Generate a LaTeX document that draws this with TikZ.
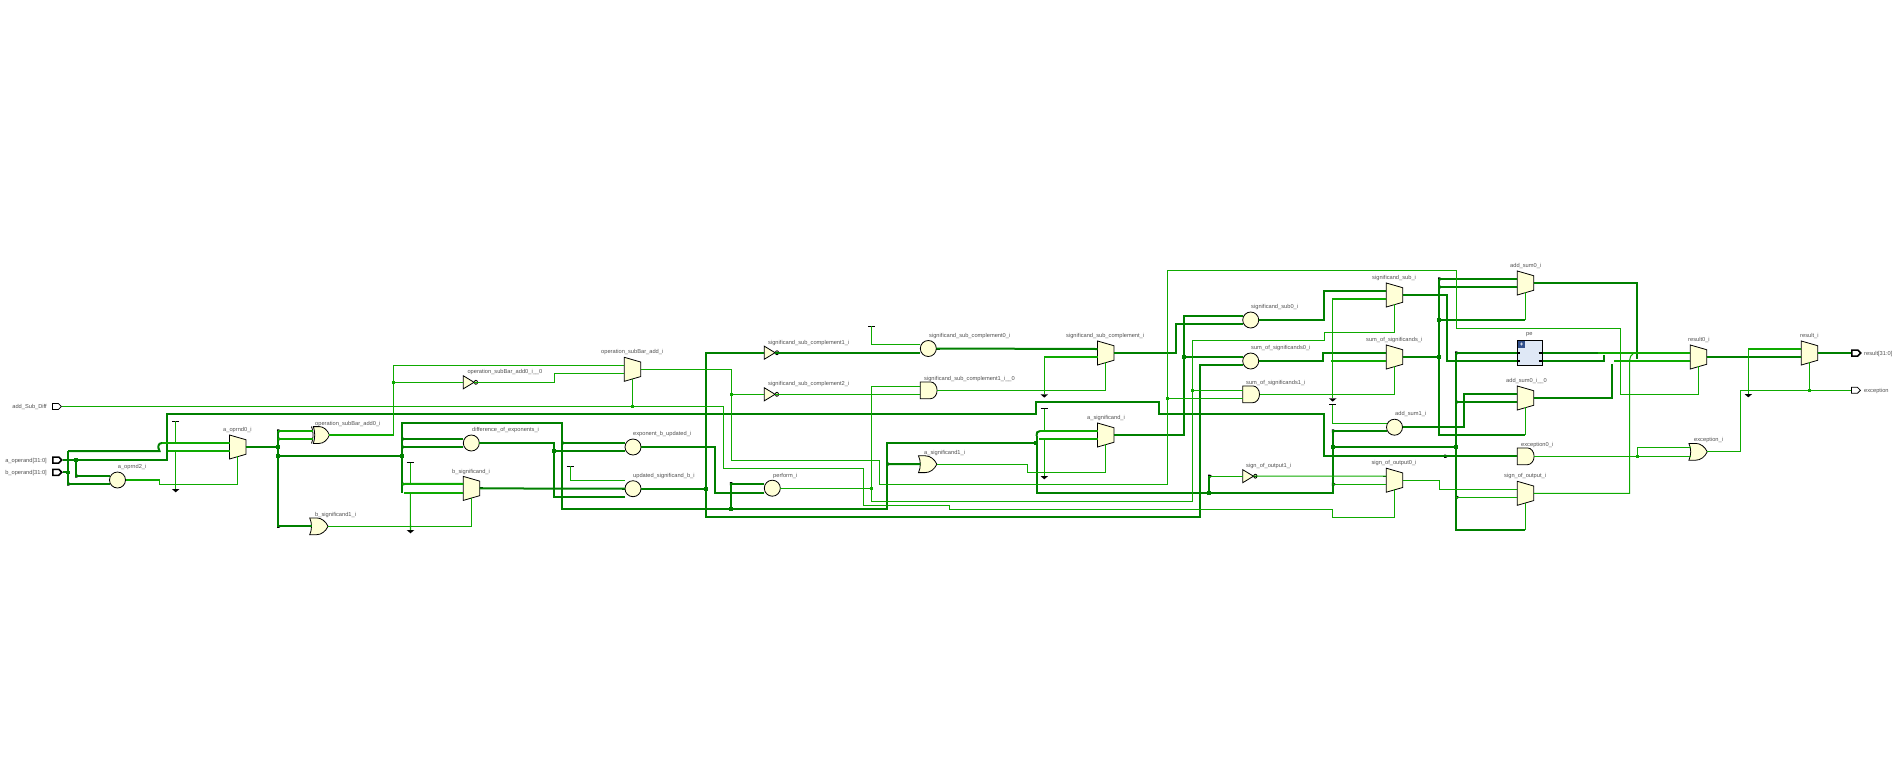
\documentclass[tikz,border=0pt]{standalone}
\usepackage{fontspec}
\setmainfont{Liberation Sans}
\usetikzlibrary{shapes.geometric, shapes.symbols, shapes.gates.logic.US}
\definecolor{Busc}{RGB}{0, 128, 0}
\definecolor{Sigc}{RGB}{14, 170, 0}
\definecolor{Cellc}{RGB}{255, 255, 215}
\definecolor{Hierc}{RGB}{223, 232, 246}
\definecolor{Btnc}{RGB}{50, 80, 140}
\definecolor{Txtc}{RGB}{80, 80, 80}
\tikzset{
  sigwire/.style={Sigc, line width=1.05pt, line join=miter},
  buswire/.style={Busc, line width=2pt, line join=miter},
  brightbus/.style={Sigc, line width=2pt},
  pinstub/.style={black, line width=1.1pt},
  busstub/.style={black, line width=2pt},
  celltext/.style={font=\fontsize{5.7}{6.8}\selectfont, text=Txtc, anchor=west, inner sep=0pt},
  cellbase/.style={draw=black, line width=0.8pt, fill=Cellc, inner sep=1pt, outer sep=0pt},
  muxcell/.style={cellbase, trapezium, shape border rotate=270, trapezium stretches=true,
    minimum width=24pt, minimum height=16.4pt, trapezium left angle=72, trapezium right angle=72},
  circcell/.style={cellbase, circle, minimum size=16pt},
  andcell/.style={cellbase, and gate US, logic gate inputs=nn, minimum width=16pt, minimum height=12.7pt, xscale=0.8, transform shape},
  orcell/.style={cellbase, or gate US, logic gate inputs=nn, minimum width=16pt, minimum height=12.7pt, xscale=0.8, transform shape},
  xorcell/.style={cellbase, xor gate US, logic gate inputs=nn, minimum width=14pt, minimum height=12.7pt, xscale=0.7, transform shape},
  notcell/.style={cellbase, not gate US, minimum width=15pt, minimum height=10.7pt, xscale=0.8, transform shape},
  busdot/.style={fill=Busc, inner sep=0pt, minimum size=3.6pt},
  sigdot/.style={fill=Sigc, inner sep=0pt, minimum size=2.8pt},
  portin/.style={draw=black, fill=white, signal, signal to=east, signal from=nowhere, inner sep=1pt,
    minimum width=9pt, minimum height=6pt, line width=0.8pt},
  portbus/.style={portin, line width=1.5pt},
}

\begin{document}
\begin{tikzpicture}[x=1pt, y=-1pt]
  \useasboundingbox (0,0) rectangle (1898,777);

  % Cells with two inputs
  \foreach \nm/\kind/\px/\py/\gp/\lx/\ly/\txt in {
    aopzero/muxcell/229.5/447/4/223/430/a\_oprnd0\_i,
    aoptwo/circcell/109.5/480/4/117.7/467/a\_oprnd2\_i,
    opxor/xorcell/313/435/4/315/424.3/operation\_subBar\_add0\_i,
    opadd/muxcell/624.3/369.3/4/601/352/operation\_subBar\_add\_i,
    diffexp/circcell/463.3/443/4/472/430/difference\_of\_exponents\_i,
    bsig/muxcell/463.3/488.4/4.6/452/472/b\_significand\_i,
    expb/circcell/625/447/4/633/434.3/exponent\_b\_updated\_i,
    perf/circcell/764.3/488.2/4.5/773/476/perform\_i,
    cmplzero/circcell/920.3/348.5/4.2/929/336/significand\_sub\_complement0\_i,
    cmplone/andcell/920.3/390.3/4/924/379/significand\_sub\_complement1\_i\_\_0,
    cmpl/muxcell/1097.5/353/4/1066/336/significand\_sub\_complement\_i,
    asig/muxcell/1097.5/435/4/1087/418.3/a\_significand\_i,
    subzero/circcell/1242.7/320/4/1251/307/significand\_sub0\_i,
    sumzero/circcell/1242.7/361/4.2/1251/348/sum\_of\_significands0\_i,
    sumone/andcell/1242.7/394.3/4/1246/383/sum\_of\_significands1\_i,
    submux/muxcell/1386.3/295/4/1372/278.3/significand\_sub\_i,
    summux/muxcell/1386.3/357/4/1366/340/sum\_of\_significands\_i,
    addone/circcell/1386.5/427.2/3.9/1395/414/add\_sum1\_i,
    sgnzero/muxcell/1386.3/480.2/4.1/1371.3/463/sign\_of\_output0\_i,
    addzero/muxcell/1517.3/283/4/1510/266/add\_sum0\_i,
    addz/muxcell/1517.3/398/4/1506/381/add\_sum0\_i\_\_0,
    sgn/muxcell/1517.3/493.3/4/1504/476/sign\_of\_output\_i,
    resz/muxcell/1690.3/357/4/1688/340/result0\_i,
    res/muxcell/1801.3/353/4/1800/336/result\_i,
    excor/orcell/1690.7/451.8/4.5/1694/440/exception\_i%
  }{
    \node[\kind, anchor=west] (\nm) at (\px,\py) {};
    \node[celltext] (\nm-t) at (\lx,\ly) {\txt};
    \coordinate (\nm-a) at (\px,\py-\gp);
    \coordinate (\nm-b) at (\px,\py+\gp);
    \coordinate (\nm-o) at (\nm.east);
    \coordinate (\nm-s) at (\px+8.2,\py+9.2);
    \draw[pinstub] (\nm-a) -- +(-3.5,0);
    \draw[pinstub] (\nm-b) -- +(-3.5,0);
    \draw[pinstub] (\nm-o) -- +(3.5,0);
  }

  % Cells with one input
  \foreach \nm/\kind/\px/\py/\lx/\ly/\txt in {
    invzero/notcell/463.3/382.3/467.3/372.3/operation\_subBar\_add0\_i\_\_0,
    invone/notcell/764.3/352.7/768/343/significand\_sub\_complement1\_i,
    invtwo/notcell/764.3/394.3/768/384/significand\_sub\_complement2\_i,
    invthree/notcell/1242.7/476.2/1246/466.3/sign\_of\_output1\_i,
    borcell/orcell/311.5/526.3/315/515/b\_significand1\_i,
    aorcell/orcell/920.3/464.2/924/453/a\_significand1\_i,
    excand/andcell/1517.3/456.3/1521/445/exception0\_i%
  }{
    \node[\kind, anchor=west] (\nm) at (\px,\py) {};
    \node[celltext] (\nm-t) at (\lx,\ly) {\txt};
    \coordinate (\nm-a) at (\px,\py);
    \coordinate (\nm-o) at (\nm.east);
    \draw[pinstub] (\nm-a) -- +(-3.5,0);
    \draw[pinstub] (\nm-o) -- +(3.5,0);
  }

  % Adder with three inputs
  \node[circcell] (upd) at (633,488.7) {};
  \node[celltext] (upd-t) at (633,476) {updated\_significand\_b\_i};
  \coordinate (upd-u) at (625,480.3);
  \coordinate (upd-m) at (625,488.7);
  \coordinate (upd-l) at (625,497);
  \coordinate (upd-o) at (upd.east);
  \draw[pinstub] (upd-u) -- +(-3,0);
  \draw[busstub] (upd-m) -- +(-3.5,0);
  \draw[busstub] (upd-l) -- +(-3,0);
  \draw[busstub] (upd-o) -- +(3.5,0);

  % Thicker pins on the buses
  \foreach \p in {aoptwo-a, aoptwo-b, aopzero-a, aopzero-b, diffexp-a, diffexp-b, bsig-a, bsig-b, expb-a, expb-b, perf-a, perf-b,
    invone-a, cmplzero-b, cmpl-a, borcell-a, aorcell-a, asig-a, asig-b, subzero-a, subzero-b, sumzero-a, sumzero-b,
    submux-a, summux-a, addone-b, addzero-a, addzero-b, addz-a, addz-b, excand-a, resz-a, resz-b, res-b}{
    \draw[busstub] (\p) -- +(-3.5,0);
  }
  \foreach \p in {aopzero-o, diffexp-o, bsig-o, expb-o, invone-o, cmplzero-o, cmpl-o, asig-o, subzero-o, sumzero-o,
    submux-o, summux-o, addone-o, addzero-o, addz-o, resz-o, res-o}{
    \draw[busstub] (\p) -- +(3.5,0);
  }

  % Hierarchy block
  \node[draw=black, line width=0.8pt, fill=Hierc, minimum width=25.4pt, minimum height=25pt, inner sep=0pt] (pe) at (1530,352.8) {};
  \node[fill=Btnc, text=white, font=\fontsize{6}{6}\selectfont\bfseries, minimum size=7pt, inner sep=0pt] (pebtn) at (1521.5,344.6) {+};
  \node[celltext] (pe-t) at (1526,335) {pe};
  \coordinate (pe-a) at (1517.3,353);
  \coordinate (pe-b) at (1517.3,361);
  \coordinate (pe-x) at (1542.7,353);
  \coordinate (pe-y) at (1542.7,361);
  \foreach \p in {pe-a,pe-b}{\draw[busstub] (\p) ++(-4,0) -- ++(7,0);}
  \foreach \p in {pe-x,pe-y}{\draw[busstub] (\p) ++(-4,0) -- ++(7.5,0);}

  % Ports
  \node[portin, anchor=west] (addport) at (52,406.5) {};
  \node[portbus, anchor=west] (aport) at (52,460) {};
  \node[portbus, anchor=west] (bport) at (52,472.3) {};
  \node[portbus, anchor=west] (rport) at (1851,353) {};
  \node[portin, anchor=west] (eport) at (1851,390.3) {};
  \node[celltext, anchor=east] (addport-t) at (47,407) {add\_Sub\_Diff};
  \node[celltext, anchor=east] (aport-t) at (47,461) {a\_operand[31:0]};
  \node[celltext, anchor=east] (bport-t) at (47,473) {b\_operand[31:0]};
  \node[celltext] (rport-t) at (1864,354) {result[31:0]};
  \node[celltext] (eport-t) at (1864,391) {exception};

  % Power symbols
  \foreach \nm/\x/\y in {vcca/175.7/421.3, vccb/410.3/462.7, vccc/570.3/466.3, vccd/871.7/326, vcce/1044.3/408.7, vccf/1332.7/404.7}{
    \coordinate (\nm) at (\x,\y);
    \draw[black, line width=0.9pt] (\x-3.6,\y) -- (\x+3.6,\y);
  }
  \foreach \nm/\x/\y in {gnda/175.7/489, gndb/410.5/530, gndc/1044.3/394.3, gndd/1044.3/476, gnde/1332.7/398.3, gndf/1748.3/394}{
    \coordinate (\nm) at (\x,\y);
    \fill[black] (\x-3.8,\y) -- (\x+3.8,\y) -- (\x,\y+3.3) -- cycle;
  }

  % Bus tap marks
  \foreach \x/\y in {76/476, 68/484, 278/431, 278/439, 278/526.3, 402/439, 402/447, 402/484, 562/443, 730.7/483.7, 887.3/464,
    1209/476.2, 1332.7/431, 1332.7/484.3, 1439/279, 1439/287, 1456/353, 1456/402, 1456/497.3, 1445/456.3}{
    \fill[black] (\x-0.9,\y-1.6) -- (\x+0.9,\y-1.6) -- (\x+3.4,\y) -- (\x+0.9,\y+1.6) -- (\x-0.9,\y+1.6) -- cycle;
  }

  % Junctions
  \foreach \nm/\x/\y in {ja/76/460, jb/68/472.3, jc/278/447, jd/278/456, je/402/456, jf/554/451, jg/705.7/488.7, jh/730.7/509,
    ji/1036/443, jj/1184/356.8, jk/1209/493, jl/1332.7/447, jm/1439/320, jn/1439/357, jo/1456/447}{
    \coordinate (\nm) at (\x,\y);
    \node[busdot] (\nm-d) at (\nm) {};
  }
  \foreach \nm/\x/\y in {sa/393.3/382.3, sb/632.5/406.5, sc/731.3/394.3, sd/871.7/488.2, se/1167.3/398.3, sf/1192.7/390.3,
    sg/1332.7/361, sh/1637.3/456.3, si/1809.5/390.3}{
    \coordinate (\nm) at (\x,\y);
    \node[sigdot] (\nm-d) at (\nm) {};
  }

  % Buses
  \draw[buswire] (aport) -- (166.7,460) -- (166.7,414) -- (1036,414) -- (1036,402.3) -- (1159,402.3) -- (1159,414) -- (1324.3,414) -- (1324.3,456.3) -- (excand-a);
  \draw[buswire] (bport) -- (jb);
  \draw[buswire] (68,451) |- (aoptwo-b);
  \draw[buswire] (68,451) -- (159.5,451) .. controls (157.5,447) and (158,443) .. (162,443);
  \draw[buswire] (ja) |- (aoptwo-a);
  \draw[buswire] (aopzero-o) -- (jc);
  \draw[buswire] (278,431) |- (borcell-a);
  \draw[buswire] (jd) -- (je);
  \draw[buswire] (402,492.7) -- (402,423) -- (562,423) -- (562,509) -- (887.3,509) -- (887.3,443) -- (ji);
  \draw[buswire] (1036.5,436) -- (1036.5,492.7) -- (1332.7,492.7) |- (addone-b);
  \draw[buswire] (1036.5,436) .. controls (1036.5,433) and (1037,431) .. (1040,431);
  \draw[buswire] (402,439) -- (diffexp-a);
  \draw[buswire] (402,447) -- (diffexp-b);
  \draw[buswire] (diffexp-o) -- (554,443) -- (554,497) -- (upd-l);
  \draw[buswire] (jf) -- (expb-b);
  \draw[buswire] (562,443) -- (expb-a);
  \draw[buswire] (bsig-o) -- (upd-m);
  \draw[buswire] (expb-o) -- (715,447) |- (perf-b);
  \draw[buswire] (jh) |- (perf-a);
  \draw[buswire] (upd-o) -- (jg);
  \draw[buswire] (invone-a) -- (705.7,352.7) -- (705.7,516.7) -- (1200,516.7) |- (sumzero-b);
  \draw[buswire] (invone-o) -- (cmplzero-b);
  \draw[buswire] (cmplzero-o) -- (cmpl-a);
  \draw[buswire] (cmpl-o) -- (1176,353) -- (1176,324) -- (subzero-b);
  \draw[buswire] (887.3,464) -- (aorcell-a);
  \draw[buswire] (asig-o) -- (1184,435) |- (subzero-a);
  \draw[buswire] (jj) -- (sumzero-a);
  \draw[buswire] (subzero-o) -- (1324.3,320) |- (submux-a);
  \draw[buswire] (sumzero-o) -- (1323.3,361) |- (summux-a);
  \draw[buswire] (submux-o) -- (1446.7,295) |- (pe-b);
  \draw[buswire] (summux-o) -- (jn);
  \draw[buswire] (1439,279) -- (1439,435) -- (1525,435);
  \draw[buswire] (1439,279) -- (addzero-a);
  \draw[buswire] (1439,287) -- (addzero-b);
  \draw[buswire] (jm) -- (1525,320);
  \draw[buswire] (addone-o) -- (1463.7,427.2) |- (addz-a);
  \draw[buswire] (1456,353) -- (pe-a);
  \draw[buswire] (1456,353) -- (1456,530) -- (1525,530);
  \draw[buswire] (1456,402) -- (addz-b);
  \draw[buswire] (jl) -- (jo);
  \draw[buswire] (pe-x) -- (1598,353);
  \draw[buswire] (pe-y) -- (1604,361) -- (1604,355);
  \draw[buswire] (addz-o) -- (1612,398) -- (1612,363.5);
  \draw[buswire] (addzero-o) -- (1637,283) -- (1637,359);
  \draw[buswire] (resz-o) -- (res-b);
  \draw[buswire] (res-o) -- (rport);
  \draw[buswire] (jk) -- (1209,476.2);

  % Selected buses
  \draw[brightbus] (162,443) -- (aopzero-a);
  \draw[brightbus] (168,451) -- (aopzero-b);
  \draw[brightbus] (402,484) -- (bsig-a);
  \draw[brightbus] (404,493) -- (bsig-b);
  \draw[brightbus] (1040,431) -- (asig-a);
  \draw[brightbus] (1039,439) -- (asig-b);
  \draw[brightbus] (1598,353) -- (resz-a);
  \draw[brightbus] (1614,361) -- (resz-b);

  % Single nets
  \draw[sigwire] (addport) -- (723.3,406.5) -- (723.3,468.3) -- (863.3,468.3) -- (863.3,505.3) -- (949.3,505.3) -- (949.3,509.3) -- (1332.7,509.3) -- (1332.7,517.3) -- (1394.5,517.3) -- (sgnzero-s);
  \draw[sigwire] (sb) -- (opadd-s);
  \draw[sigwire] (aoptwo-o) -- (159.3,480) -- (159.3,484.3) -| (aopzero-s);
  \draw[sigwire] (vcca) -- (175.7,443);
  \draw[sigwire] (175.7,451) -- (gnda);
  \draw[sigwire] (278,431) -- (opxor-a);
  \draw[sigwire] (278,439) -- (opxor-b);
  \draw[sigwire] (opxor-o) -- (393.3,435) |- (opadd-a);
  \draw[sigwire] (sa) -- (invzero-a);
  \draw[sigwire] (invzero-o) -- (554.3,382.3) |- (opadd-b);
  \draw[sigwire] (opadd-o) -- (731.3,369.3) -- (731.3,460.3) -- (879.3,460.3) -- (879.3,484.3) -- (1167.3,484.3) -- (1167.3,270.3) -- (1456.7,270.3) -- (1456.7,328.3) -- (1620.3,328.3) -- (1620.3,394.3) -| (resz-s);
  \draw[sigwire] (sc) -- (invtwo-a);
  \draw[sigwire] (invtwo-o) -- (cmplone-b);
  \draw[sigwire] (vccd) |- (cmplzero-a);
  \draw[sigwire] (cmplone-a) -- (871.7,386.3) -- (871.7,501.7) -- (1192.7,501.7) -- (1192.7,340.3) -- (1324.3,340.3) -- (1324.3,332.3) -| (submux-s);
  \draw[sigwire] (perf-o) -- (sd);
  \draw[sigwire] (sf) -- (sumone-a);
  \draw[sigwire] (se) -- (sumone-b);
  \draw[sigwire] (cmplone-o) -| (cmpl-s);
  \draw[sigwire] (cmpl-b) -| (gndc);
  \draw[sigwire] (vcce) |- (asig-a);
  \draw[sigwire] (1044.3,439) -- (gndd);
  \draw[sigwire] (aorcell-o) -- (1027.3,464.2) -- (1027.3,472.5) -| (asig-s);
  \draw[sigwire] (vccb) |- (bsig-a);
  \draw[sigwire] (410.3,493) -- (gndb);
  \draw[sigwire] (borcell-o) -| (bsig-s);
  \draw[sigwire] (vccc) |- (upd-u);
  \draw[sigwire] (sumone-o) -| (summux-s);
  \draw[sigwire] (submux-b) -| (gnde);
  \draw[sigwire] (sg) -- (summux-b);
  \draw[sigwire] (vccf) |- (addone-a);
  \draw[sigwire] (1332.7,484.3) -- (sgnzero-b);
  \draw[sigwire] (1209,476.2) -- (invthree-a);
  \draw[sigwire] (invthree-o) -- (sgnzero-a);
  \draw[sigwire] (sgnzero-o) -- (1439.3,480.2) |- (sgn-a);
  \draw[sigwire] (1456,497.3) -- (sgn-b);
  \draw[sigwire] (sgn-o) -- (1629.7,493.3) -- (1629.7,360) .. controls (1629.7,357) and (1631,355) .. (1633,354);
  \draw[sigwire] (excand-o) -- (excor-b);
  \draw[sigwire] (sh) |- (excor-a);
  \draw[sigwire] (excor-o) -- (1740.3,451.8) |- (eport);
  \draw[sigwire] (si) -- (res-s);
  \draw[sigwire] (res-a) -| (gndf);
  \draw[sigwire] (1525.5,320) -- (addzero-s);
  \draw[sigwire] (1525.5,435) -- (addz-s);
  \draw[sigwire] (1525.5,530) -- (sgn-s);
\end{tikzpicture}
\end{document}
